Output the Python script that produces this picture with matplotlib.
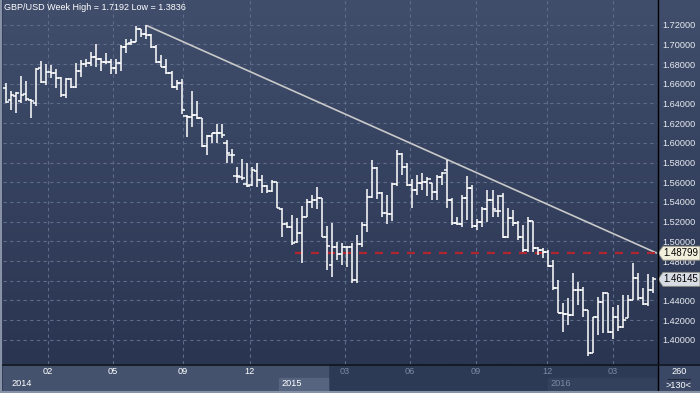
import numpy as np
import matplotlib.pyplot as plt
import matplotlib.transforms as mtransforms
from matplotlib.colors import LinearSegmentedColormap
from matplotlib.patches import Polygon, Rectangle

plt.rcParams['font.family'] = ['Liberation Sans', 'DejaVu Sans']

# weekly GBP/USD bars
opens = [1.6560, 1.6435, 1.6475, 1.6424, 1.6495, 1.6435, 1.6401, 1.6756, 1.6621, 1.6722,
         1.6712, 1.6654, 1.6485, 1.6644, 1.6570, 1.6732, 1.6800, 1.6807, 1.6868, 1.6847,
         1.6817, 1.6824, 1.6756, 1.6807, 1.6976, 1.7010, 1.7027, 1.7152, 1.7101, 1.7094,
         1.6976, 1.6824, 1.6773, 1.6705, 1.6570, 1.6604, 1.6275, 1.6265, 1.6282, 1.6248,
         1.5968, 1.6073, 1.6096, 1.6096, 1.6001, 1.5876, 1.5663, 1.5656, 1.5582, 1.5572,
         1.5717, 1.5622, 1.5561, 1.5514, 1.5605, 1.5325, 1.5176, 1.5149, 1.4996, 1.5081,
         1.5250, 1.5402, 1.5419, 1.5436, 1.5047, 1.4759, 1.4946, 1.4871, 1.4946, 1.4939,
         1.4607, 1.4973, 1.5166, 1.5453, 1.5741, 1.5494, 1.5284, 1.5277, 1.5582, 1.5886,
         1.5758, 1.5572, 1.5521, 1.5595, 1.5605, 1.5589, 1.5504, 1.5656, 1.5724, 1.5419,
         1.5182, 1.5176, 1.5436, 1.5538, 1.5155, 1.5199, 1.5325, 1.5419, 1.5311, 1.5460,
         1.5047, 1.5233, 1.5189, 1.5040, 1.4912, 1.5210, 1.4929, 1.4912, 1.4888, 1.4749,
         1.4523, 1.4269, 1.4262, 1.4252, 1.4506, 1.4506, 1.4303, 1.3869, 1.4228, 1.4387,
         1.4472, 1.4083, 1.4235, 1.4133, 1.4218, 1.4404, 1.4624, 1.4421, 1.4363, 1.4506]
highs = [1.6610, 1.6526, 1.6519, 1.6678, 1.6627, 1.6441, 1.6756, 1.6830, 1.6797, 1.6790,
         1.6746, 1.6671, 1.6654, 1.6654, 1.6813, 1.6841, 1.6847, 1.6925, 1.7000, 1.6858,
         1.6915, 1.6847, 1.6847, 1.6993, 1.7050, 1.7050, 1.7186, 1.7152, 1.7192, 1.7105,
         1.6993, 1.6891, 1.6847, 1.6732, 1.6638, 1.6644, 1.6282, 1.6526, 1.6428, 1.6248,
         1.6080, 1.6096, 1.6188, 1.6188, 1.6028, 1.5934, 1.5758, 1.5832, 1.5792, 1.5758,
         1.5792, 1.5673, 1.5572, 1.5622, 1.5605, 1.5335, 1.5199, 1.5267, 1.5233, 1.5358,
         1.5426, 1.5470, 1.5555, 1.5436, 1.5155, 1.5182, 1.4996, 1.4979, 1.4956, 1.4979,
         1.5064, 1.5199, 1.5528, 1.5825, 1.5758, 1.5504, 1.5470, 1.5589, 1.5927, 1.5893,
         1.5792, 1.5629, 1.5673, 1.5690, 1.5649, 1.5589, 1.5673, 1.5707, 1.5825, 1.5436,
         1.5250, 1.5470, 1.5663, 1.5572, 1.5223, 1.5352, 1.5521, 1.5521, 1.5470, 1.5494,
         1.5335, 1.5318, 1.5206, 1.5166, 1.5243, 1.5210, 1.4945, 1.4929, 1.4912, 1.4810,
         1.4607, 1.4370, 1.4421, 1.4675, 1.4590, 1.4539, 1.4303, 1.4235, 1.4438, 1.4489,
         1.4472, 1.4336, 1.4353, 1.4455, 1.4455, 1.4776, 1.4682, 1.4523, 1.4668, 1.4634]
lows = [1.6401, 1.6333, 1.6306, 1.6401, 1.6424, 1.6255, 1.6374, 1.6610, 1.6587, 1.6654,
        1.6553, 1.6468, 1.6458, 1.6553, 1.6560, 1.6665, 1.6766, 1.6780, 1.6773, 1.6732,
        1.6797, 1.6695, 1.6699, 1.6732, 1.6915, 1.6993, 1.7027, 1.7071, 1.7050, 1.6959,
        1.6813, 1.6766, 1.6699, 1.6553, 1.6536, 1.6289, 1.6055, 1.6164, 1.6238, 1.5961,
        1.5876, 1.5995, 1.5995, 1.6045, 1.5792, 1.5792, 1.5595, 1.5622, 1.5555, 1.5561,
        1.5548, 1.5494, 1.5494, 1.5504, 1.5335, 1.5040, 1.5132, 1.4962, 1.4986, 1.4776,
        1.5250, 1.5335, 1.5325, 1.5040, 1.4709, 1.4641, 1.4810, 1.4759, 1.4743, 1.4580,
        1.4580, 1.4946, 1.5098, 1.5443, 1.5426, 1.5250, 1.5176, 1.5210, 1.5561, 1.5673,
        1.5561, 1.5335, 1.5470, 1.5521, 1.5460, 1.5419, 1.5419, 1.5572, 1.5335, 1.5166,
        1.5166, 1.5142, 1.5216, 1.5132, 1.5115, 1.5142, 1.5199, 1.5243, 1.5243, 1.5030,
        1.5030, 1.5155, 1.5013, 1.4895, 1.4895, 1.4895, 1.4861, 1.4827, 1.4743, 1.4506,
        1.4269, 1.4083, 1.4150, 1.4242, 1.4353, 1.4235, 1.3836, 1.3863, 1.4049, 1.4066,
        1.4066, 1.4005, 1.4093, 1.4116, 1.4218, 1.4404, 1.4404, 1.4353, 1.4343, 1.4472]
closes = [1.6411, 1.6485, 1.6509, 1.6485, 1.6441, 1.6424, 1.6746, 1.6621, 1.6722, 1.6712,
          1.6654, 1.6485, 1.6644, 1.6570, 1.6732, 1.6800, 1.6807, 1.6868, 1.6847, 1.6817,
          1.6824, 1.6756, 1.6807, 1.6976, 1.7003, 1.7027, 1.7152, 1.7101, 1.7094, 1.6976,
          1.6824, 1.6773, 1.6705, 1.6570, 1.6604, 1.6333, 1.6265, 1.6282, 1.6248, 1.5968,
          1.6073, 1.6096, 1.6096, 1.6079, 1.5893, 1.5876, 1.5663, 1.5639, 1.5561, 1.5724,
          1.5622, 1.5561, 1.5514, 1.5605, 1.5335, 1.5176, 1.5149, 1.4986, 1.5081, 1.5250,
          1.5402, 1.5419, 1.5436, 1.5047, 1.4952, 1.4946, 1.4871, 1.4946, 1.4939, 1.4607,
          1.4973, 1.5166, 1.5453, 1.5741, 1.5494, 1.5284, 1.5277, 1.5582, 1.5886, 1.5758,
          1.5572, 1.5521, 1.5595, 1.5605, 1.5633, 1.5504, 1.5656, 1.5690, 1.5419, 1.5182,
          1.5176, 1.5436, 1.5538, 1.5155, 1.5199, 1.5325, 1.5419, 1.5325, 1.5311, 1.5047,
          1.5233, 1.5189, 1.5040, 1.4912, 1.5210, 1.4929, 1.4912, 1.4888, 1.4749, 1.4523,
          1.4269, 1.4262, 1.4252, 1.4506, 1.4506, 1.4303, 1.3869, 1.4228, 1.4387, 1.4472,
          1.4083, 1.4235, 1.4133, 1.4201, 1.4404, 1.4624, 1.4421, 1.4363, 1.4506, 1.46145]

price_ticks = [1.40, 1.42, 1.44, 1.46, 1.48, 1.50, 1.52, 1.54, 1.56, 1.58,
               1.60, 1.62, 1.64, 1.66, 1.68, 1.70, 1.72]
hidden_ticks = [1.46]   # sits fully under the last-price flag
month_labels = ['02', '05', '09', '12', '03', '06', '09', '12', '03']
month_idx = [8.4, 21.3, 35.3, 48.6, 67.6, 80.5, 93.7, 107.9, 121.0]
year_labels = ['2014', '2015', '2016']
year_idx = [1.0, 55.0, 108.5]

title = 'GBP/USD Week High = 1.7192 Low = 1.3836'
trend_start = (28, 1.7192)
trend_end_value = 1.48799
support_level = 1.48799
support_from = 57.6
last_close = 1.46145
corner_top, corner_bottom = '260', '>130<'

W, H = 700, 393
n = len(closes)
x = np.arange(n)
sp = (653 - 6) / (n - 1)
x_lo, x_hi = -3 / sp, 651 / sp
y_lo, y_hi = 1.3755, 1.7450
fs = 6.6


def fx(px):
    return px / W


def fy(py):
    return 1 - py / H


fig = plt.figure(figsize=(7, 3.93), dpi=100)
fig.patch.set_facecolor('#2e3a55')

bg = LinearSegmentedColormap.from_list('bg', ['#2a3551', '#404e6c'])
grad = np.linspace(0, 1, 256).reshape(-1, 1)

# right price panel (under the main axes so the tick labels stay visible)
axr = fig.add_axes([fx(657), fy(364), fx(700) - fx(657), fy(0) - fy(364)])
axr.imshow(grad, extent=[0, 1, 0, 1], origin='lower', aspect='auto', cmap=bg)
axr.set_xlim(0, 1)
axr.set_ylim(0, 1)
axr.axis('off')
axr.set_zorder(1)

ax = fig.add_axes([fx(3), fy(364), fx(657) - fx(3), fy(0) - fy(364)])
ax.set_zorder(2)
ax.set_xlim(x_lo, x_hi)
ax.set_ylim(y_lo, y_hi)
for s in ax.spines.values():
    s.set_visible(False)
ax.imshow(grad, extent=[x_lo, x_hi, y_lo, y_hi], origin='lower', aspect='auto',
          cmap=bg, zorder=0)

grid_kw = dict(color='#5d6c89', lw=0.8, linestyle=(0, (3, 3)), zorder=1)
for p in price_ticks:
    ax.axhline(p, **grid_kw)
for m in month_idx:
    ax.axvline(m, **grid_kw)

ax.set_yticks(price_ticks)
ax.set_yticklabels(['' if p in hidden_ticks else '%.5f' % p for p in price_ticks])
ax.yaxis.tick_right()
ax.tick_params(axis='y', length=0, pad=4, labelsize=fs, labelcolor='#e8ebf0')
ax.set_xticks([])

# ohlc bars
bar_kw = dict(colors='#ffffff', lw=1.1, zorder=4)
tk = 0.65
ax.vlines(x, lows, highs, **bar_kw)
ax.hlines(opens, x - tk, x, **bar_kw)
ax.hlines(closes, x, x + tk, **bar_kw)

# trend line and support line
ax.plot([trend_start[0], x_hi], [trend_start[1], trend_end_value],
        color='#c9c9c9', lw=1.2, zorder=3, solid_capstyle='butt')
ax.hlines(support_level, support_from, x_hi, colors='#b0262f', lw=1.6,
          linestyles=(0, (3.6, 3.6)), zorder=3)

# price flags on the right
fig.canvas.draw()
ident = mtransforms.IdentityTransform()
for val, face in [(support_level, '#f2f0dc'), (last_close, '#d8dce5')]:
    yp = ax.transData.transform((0, val))[1]
    x0 = fx(658) * W
    poly = Polygon([(x0, yp), (x0 + 5, yp + 7), (W, yp + 7), (W, yp - 7), (x0 + 5, yp - 7)],
                   closed=True, facecolor=face, edgecolor='#8c8c80', lw=0.6,
                   transform=ident, zorder=10)
    fig.patches.append(poly)
    fig.text(fx(663), yp / H, '%.5f' % val, fontsize=fs + 0.3, color='black',
             va='center', ha='left', zorder=11)

# time axis strip
axb = fig.add_axes([fx(3), 0, fx(657) - fx(3), fy(364)])
axb.set_xlim(x_lo, x_hi)
axb.set_ylim(393, 364)
axb.axis('off')
axb.add_patch(Rectangle((x_lo, 364), x_hi - x_lo, 29, color='#2d3a55', zorder=0))
sel = (328 - 6) / sp
axb.add_patch(Rectangle((x_lo, 364), sel - x_lo, 28, color='#44526e', zorder=1))
axb.add_patch(Rectangle(((279 - 6) / sp, 378), (328 - 279) / sp, 13, color='#56647f', zorder=2))
axb.add_patch(Rectangle((year_idx[2] - 0.5, 378), x_hi - year_idx[2] + 0.5, 13,
                        color='#34415c', zorder=1))
for lab, m in zip(month_labels, month_idx):
    c = 'white' if m < sel else '#7d8aa3'
    axb.text(m, 372, lab, ha='center', va='center', fontsize=fs, color=c, zorder=3)
for lab, m in zip(year_labels, year_idx):
    c = 'white' if m < sel else '#7d8aa3'
    axb.text(m, 384, lab, ha='left', va='center', fontsize=fs, color=c, zorder=3)

# corner box
fig.patches.append(Rectangle((fx(658), 0), 1 - fx(658), fy(364), color='#3b4865',
                             transform=fig.transFigure, zorder=0))
fig.text(fx(679), fy(372), corner_top, ha='center', va='center', fontsize=fs, color='white')
fig.text(fx(679), fy(385), corner_bottom, ha='center', va='center', fontsize=fs, color='white')
fig.lines.append(plt.Line2D([fx(668), fx(690)], [fy(378.5), fy(378.5)],
                            color='#20283a', lw=0.8, transform=fig.transFigure))

# frame lines
fig.lines.append(plt.Line2D([fx(657.5), fx(657.5)], [0, 1], color='black', lw=1.0,
                            transform=fig.transFigure, zorder=20))
fig.lines.append(plt.Line2D([0, 1], [fy(364.5), fy(364.5)], color='#10141d', lw=1.2,
                            transform=fig.transFigure, zorder=20))
fig.lines.append(plt.Line2D([fx(1), fx(1)], [0, 1], color='#8792a6', lw=1.5,
                            transform=fig.transFigure, zorder=20))
fig.lines.append(plt.Line2D([0, 1], [fy(392), fy(392)], color='#8792a6', lw=1.5,
                            transform=fig.transFigure, zorder=20))

fig.text(fx(4), fy(8), title, fontsize=6.5, color='white', va='center', ha='left')

fig.savefig('out.png', dpi=100, facecolor=fig.get_facecolor())
